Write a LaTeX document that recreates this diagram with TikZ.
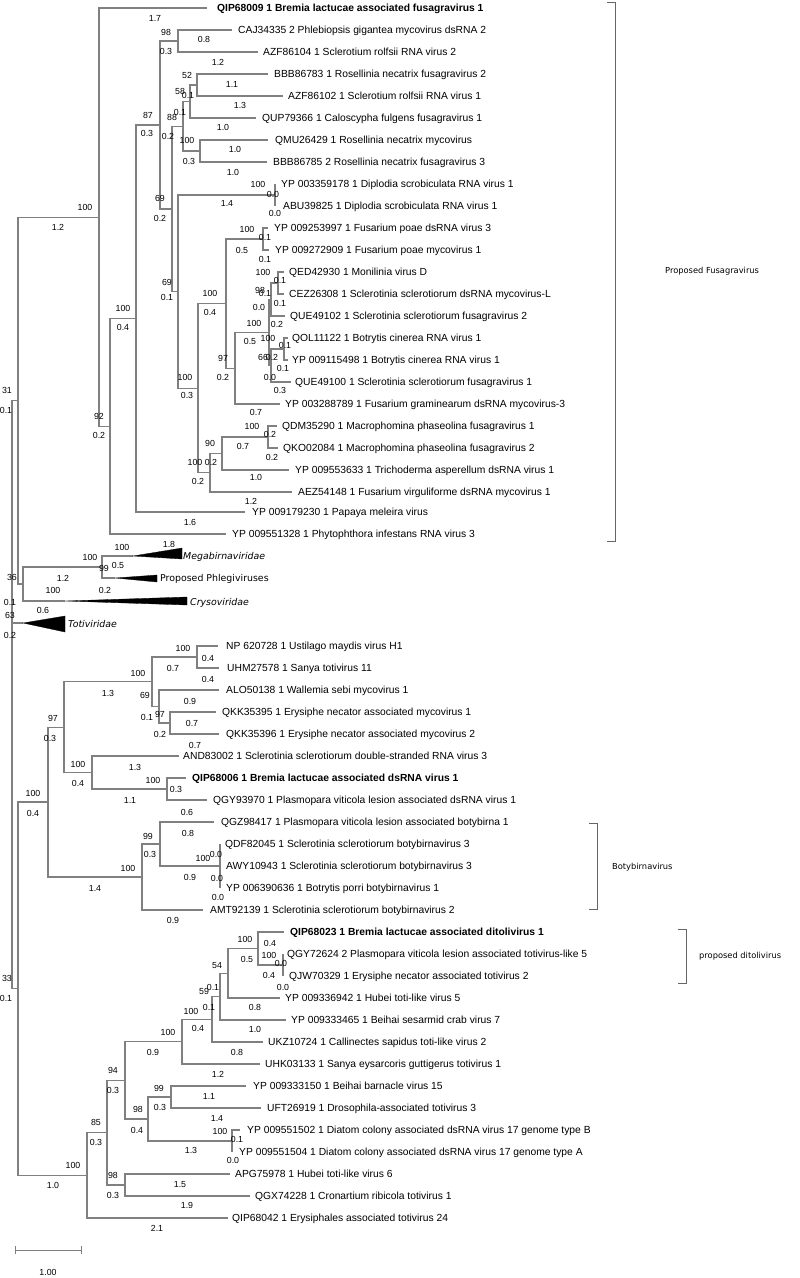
\documentclass[tikz,border=0pt]{standalone}
\usepackage{fontspec}
\setmainfont{Liberation Sans}
\newfontfamily\djv{DejaVu Sans}
\newcommand\lf[5]{\coordinate (#1e) at (#2,#3); \node[leaf] (#1) at (#4,#3) {#5};}
\newcommand\nb[4]{\node[num] (#1) at (#2,#3) {#4};}
\begin{document}
\begin{tikzpicture}[x=1pt,y=-1pt,
  br/.style={draw=black!50, line width=1.2pt},
  leaf/.style={anchor=west, inner sep=0pt, font=\fontsize{10.3}{12}\selectfont, text height=7.4pt, text depth=0pt},
  num/.style={inner sep=0pt, font=\fontsize{8.8}{10}\selectfont, text height=6.3pt, text depth=0pt},
  clade/.style={anchor=west, inner sep=0pt, font=\djv\fontsize{9.4}{11}\selectfont, text height=6.9pt, text depth=0pt},
  grp/.style={anchor=west, inner sep=0pt, font=\djv\fontsize{8.3}{10}\selectfont, text height=6.1pt, text depth=0pt},
  tri/.style={fill=black, draw=black, line width=0.3pt},
  brk/.style={draw=black!60, line width=0.8pt}
]
\fill[white] (0,0) rectangle (800,1278);
\useasboundingbox (0,0) rectangle (800,1278);

% ---------- leaves ----------
\lf{l1}{207}{8}{217}{\bfseries QIP68009 1 Bremia lactucae associated fusagravirus 1}
\lf{l2}{232}{30}{238}{CAJ34335 2 Phlebiopsis gigantea mycovirus dsRNA 2}
\lf{l3}{258}{52}{263}{AZF86104 1 Sclerotium rolfsii RNA virus 2}
\lf{l4}{268}{74}{274}{BBB86783 1 Rosellinia necatrix fusagravirus 2}
\lf{l5}{283}{96}{288}{AZF86102 1 Sclerotium rolfsii RNA virus 1}
\lf{l6}{256}{118}{262}{QUP79366 1 Caloscypha fulgens fusagravirus 1}
\lf{l7}{268}{140}{275}{QMU26429 1 Rosellinia necatrix mycovirus}
\lf{l8}{267}{162}{273}{BBB86785 2 Rosellinia necatrix fusagravirus 3}
\lf{l9}{275}{184}{281}{YP 003359178 1 Diplodia scrobiculata RNA virus 1}
\lf{l10}{275}{206}{283}{ABU39825 1 Diplodia scrobiculata RNA virus 1}
\lf{l11}{268}{228}{274}{YP 009253997 1 Fusarium poae dsRNA virus 3}
\lf{l12}{269}{250}{275}{YP 009272909 1 Fusarium poae mycovirus 1}
\lf{l13}{284}{272}{289}{QED42930 1 Monilinia virus D}
\lf{l14}{284}{294}{289}{CEZ26308 1 Sclerotinia sclerotiorum dsRNA mycovirus-L}
\lf{l15}{285}{316}{290}{QUE49102 1 Sclerotinia sclerotiorum fusagravirus 2}
\lf{l16}{288}{338}{292}{QOL11122 1 Botrytis cinerea RNA virus 1}
\lf{l17}{288}{360}{292}{YP 009115498 1 Botrytis cinerea RNA virus 1}
\lf{l18}{291}{382}{295}{QUE49100 1 Sclerotinia sclerotiorum fusagravirus 1}
\lf{l19}{280}{404}{285}{YP 003288789 1 Fusarium graminearum dsRNA mycovirus-3}
\lf{l20}{277}{426}{282}{QDM35290 1 Macrophomina phaseolina fusagravirus 1}
\lf{l21}{278}{448}{283}{QKO02084 1 Macrophomina phaseolina fusagravirus 2}
\lf{l22}{289}{470}{295}{YP 009553633 1 Trichoderma asperellum dsRNA virus 1}
\lf{l23}{292}{492}{298}{AEZ54148 1 Fusarium virguliforme dsRNA mycovirus 1}
\lf{l24}{245}{512}{252}{YP 009179230 1 Papaya meleira virus}
\lf{l25}{226}{534}{232}{YP 009551328 1 Phytophthora infestans RNA virus 3}
\lf{l30}{218}{646}{226}{NP 620728 1 Ustilago maydis virus H1}
\lf{l31}{219}{668}{227}{UHM27578 1 Sanya totivirus 11}
\lf{l32}{219}{690}{226}{ALO50138 1 Wallemia sebi mycovirus 1}
\lf{l33}{216}{712}{222}{QKK35395 1 Erysiphe necator associated mycovirus 1}
\lf{l34}{219}{734}{226}{QKK35396 1 Erysiphe necator associated mycovirus 2}
\lf{l35}{179}{756}{183}{AND83002 1 Sclerotinia sclerotiorum double-stranded RNA virus 3}
\lf{l36}{186}{778}{192}{\bfseries QIP68006 1 Bremia lactucae associated dsRNA virus 1}
\lf{l37}{207}{800}{213}{QGY93970 1 Plasmopara viticola lesion associated dsRNA virus 1}
\lf{l38}{214}{822}{221}{QGZ98417 1 Plasmopara viticola lesion associated botybirna 1}
\lf{l39}{220}{844}{225}{QDF82045 1 Sclerotinia sclerotiorum botybirnavirus 3}
\lf{l40}{220}{866}{226}{AWY10943 1 Sclerotinia sclerotiorum botybirnavirus 3}
\lf{l41}{220}{888}{226}{YP 006390636 1 Botrytis porri botybirnavirus 1}
\lf{l42}{203}{910}{210}{AMT92139 1 Sclerotinia sclerotiorum botybirnavirus 2}
\lf{l43}{284}{932}{290}{\bfseries QIP68023 1 Bremia lactucae associated ditolivirus 1}
\lf{l44}{283}{954}{287}{QGY72624 2 Plasmopara viticola lesion associated totivirus-like 5}
\lf{l45}{283}{976}{289}{QJW70329 1 Erysiphe necator associated totivirus 2}
\lf{l46}{280}{998}{285}{YP 009336942 1 Hubei toti-like virus 5}
\lf{l47}{286}{1020}{291}{YP 009333465 1 Beihai sesarmid crab virus 7}
\lf{l48}{263}{1042}{268}{UKZ10724 1 Callinectes sapidus toti-like virus 2}
\lf{l49}{260}{1064}{265}{UHK03133 1 Sanya eysarcoris guttigerus totivirus 1}
\lf{l50}{246}{1086}{253}{YP 009333150 1 Beihai barnacle virus 15}
\lf{l51}{261}{1108}{267}{UFT26919 1 Drosophila-associated totivirus 3}
\lf{l52}{240}{1130}{247}{YP 009551502 1 Diatom colony associated dsRNA virus 17 genome type B}
\lf{l53}{232}{1152}{239}{YP 009551504 1 Diatom colony associated dsRNA virus 17 genome type A}
\lf{l54}{230}{1174}{235}{APG75978 1 Hubei toti-like virus 6}
\lf{l55}{250}{1196}{255}{QGX74228 1 Cronartium ribicola totivirus 1}
\lf{l56}{228}{1218}{232}{QIP68042 1 Erysiphales associated totivirus 24}

% ---------- internal nodes ----------
\coordinate (root) at (12,694);
\coordinate (n31) at (18,400.6);
\coordinate (n100a) at (99,217.1);
\coordinate (n92) at (110,426.25);
\coordinate (n100b) at (136,318.5);
\coordinate (n87) at (160,125);
\coordinate (n98) at (178,41);
\coordinate (n69a) at (172,208.9);
\coordinate (n88) at (183,126.25);
\coordinate (n58) at (190,101.5);
\coordinate (n52) at (197,85);
\coordinate (n100d) at (200,151);
\coordinate (n69b) at (178,291.6);
\coordinate (nDip) at (275,195);
\coordinate (n100c) at (198,388.2);
\coordinate (n100e) at (226,303.6);
\coordinate (nFP) at (263,239);
\coordinate (n97) at (235,368.25);
\coordinate (n100h) at (269,332.5);
\coordinate (n98b) at (271,299.5);
\coordinate (n100i) at (278,283);
\coordinate (n66) at (271,365.5);
\coordinate (n100j) at (284,349);
\coordinate (n100f) at (210,472.75);
\coordinate (n90) at (222,453.5);
\coordinate (n100g) at (268,437);
\coordinate (nC) at (23,584);
\coordinate (n99) at (102,567);
\coordinate (mega) at (133,556);
\coordinate (phl) at (115,578);
\coordinate (crys) at (65,601);
\coordinate (toti) at (23,623);
\coordinate (n33) at (18,988.7);
\coordinate (n100m) at (48,802);
\coordinate (n97m) at (64,727.1);
\coordinate (n100o) at (152,681.75);
\coordinate (n100q) at (197,657);
\coordinate (n69m) at (159,706.5);
\coordinate (n97n) at (170,723);
\coordinate (n100p) at (92,772.5);
\coordinate (n100r) at (167,789);
\coordinate (n100n) at (142,877);
\coordinate (n99b) at (160,844);
\coordinate (n100s) at (220,866);
\coordinate (n100w) at (87,1175.3);
\coordinate (n85) at (107,1132.7);
\coordinate (n98d) at (125,1185);
\coordinate (n94) at (125,1080.3);
\coordinate (n100u) at (182,1041.7);
\coordinate (n100t) at (212,1019.3);
\coordinate (n59) at (220,996.6);
\coordinate (n54) at (228,973.25);
\coordinate (nB) at (258,948.5);
\coordinate (nA) at (283,965);
\coordinate (n98c) at (148,1119);
\coordinate (n99c) at (171,1097);
\coordinate (n100v) at (232,1141);

% ---------- branches ----------
\foreach \p/\c in {root/n31, root/toti, root/n33,
  n31/n100a, n31/nC,
  n100a/l1e, n100a/n92, n92/n100b, n92/l25e, n100b/n87, n100b/l24e,
  n87/n98, n87/n69a, n98/l2e, n98/l3e, n69a/n88, n69a/n69b,
  n88/n58, n88/n100d, n58/n52, n58/l6e, n52/l4e, n52/l5e, n100d/l7e, n100d/l8e,
  n69b/nDip, n69b/n100c, nDip/l9e, nDip/l10e, n100c/n100e, n100c/n100f,
  n100e/nFP, n100e/n97, nFP/l11e, nFP/l12e, n97/n100h, n97/l19e,
  n100h/n98b, n100h/n66, n98b/n100i, n98b/l15e, n100i/l13e, n100i/l14e,
  n66/n100j, n66/l18e, n100j/l16e, n100j/l17e,
  n100f/n90, n100f/l23e, n90/n100g, n90/l22e, n100g/l20e, n100g/l21e,
  nC/n99, nC/crys, n99/mega, n99/phl,
  n33/n100m, n33/n100w, n100m/n97m, n100m/n100n, n97m/n100o, n97m/n100p,
  n100o/n100q, n100o/n69m, n100q/l30e, n100q/l31e, n69m/l32e, n69m/n97n,
  n97n/l33e, n97n/l34e, n100p/l35e, n100p/n100r, n100r/l36e, n100r/l37e,
  n100n/n99b, n100n/l42e, n99b/l38e, n99b/n100s, n100s/l39e, n100s/l40e, n100s/l41e,
  n100w/n85, n100w/l56e, n85/n94, n85/n98d, n98d/l54e, n98d/l55e,
  n94/n100u, n94/n98c, n100u/n100t, n100u/l49e, n100t/n59, n100t/l48e,
  n59/n54, n59/l47e, n54/nB, n54/l46e, nB/l43e, nB/nA, nA/l44e, nA/l45e,
  n98c/n99c, n98c/n100v, n99c/l50e, n99c/l51e, n100v/l52e, n100v/l53e}
  {\draw[br] (\p) |- (\c);}

% ---------- collapsed clades ----------
\fill[tri] (mega) -- (182,548) -- (182,559) -- cycle;
\fill[tri] (phl) -- (157,575) -- (157,582) -- cycle;
\fill[tri] (crys) -- (187,597) -- (187,605) -- cycle;
\fill[tri] (toti) -- (65,616) -- (65,632) -- cycle;
\node[clade, font=\djv\itshape\fontsize{9.4}{11}\selectfont] (tMega) at (183,556) {Megabirnaviridae};
\node[clade] (tPhl) at (160,578) {Proposed Phlegiviruses};
\node[clade, font=\djv\itshape\fontsize{9.4}{11}\selectfont] (tCrys) at (190,602) {Crysoviridae};
\node[clade, font=\djv\itshape\fontsize{9.4}{11}\selectfont] (tToti) at (68,624) {Totiviridae};

% ---------- brackets ----------
\coordinate (fa) at (607,2); \coordinate (fb) at (615,2);
\coordinate (fc) at (615,541); \coordinate (fd) at (607,541);
\draw[brk] (fa) -- (fb) -- (fc) -- (fd);
\node[grp] (tFus) at (665,270) {Proposed Fusagravirus};
\coordinate (ba) at (589,823); \coordinate (bb) at (597,823);
\coordinate (bc) at (597,909); \coordinate (bd) at (589,909);
\draw[brk] (ba) -- (bb) -- (bc) -- (bd);
\node[grp] (tBoty) at (612,866) {Botybirnavirus};
\coordinate (da) at (678,929); \coordinate (db) at (686,929);
\coordinate (dc) at (686,983); \coordinate (dd) at (678,983);
\draw[brk] (da) -- (db) -- (dc) -- (dd);
\node[grp] (tDito) at (699,955) {proposed ditolivirus};

% ---------- scale bar ----------
\coordinate (s1) at (15,1250); \coordinate (s2) at (81,1250);
\draw[br, line width=1pt] (s1) -- (s2);
\draw[br, line width=1pt] ([yshift=-4pt]s1) -- ([yshift=4pt]s1);
\draw[br, line width=1pt] ([yshift=-4pt]s2) -- ([yshift=4pt]s2);
\nb{sbl}{48}{1272}{1.00}

% ---------- support / length labels ----------
\nb{a1}{85}{207}{100} \nb{a2}{58}{227}{1.2} \nb{a3}{155}{18}{1.7}
\nb{a4}{99}{416}{92} \nb{a5}{99}{435}{0.2}
\nb{a6}{123}{308}{100} \nb{a7}{123}{327}{0.4}
\nb{a8}{169}{544}{1.8} \nb{a9}{190}{522}{1.6}
\nb{a10}{148}{115}{87} \nb{a11}{147}{133}{0.3}
\nb{a12}{166}{32}{98} \nb{a13}{166}{51}{0.3} \nb{a14}{204}{39}{0.8} \nb{a15}{218}{62}{1.2}
\nb{a16}{160}{198}{69} \nb{a17}{160}{218}{0.2}
\nb{a18}{172}{117}{88} \nb{a19}{168}{136}{0.2}
\nb{a20}{180}{91}{58} \nb{a21}{180}{112}{0.1}
\nb{a22}{187}{75}{52} \nb{a23}{188}{95}{0.1}
\nb{a24}{232}{84}{1.1} \nb{a25}{240}{105}{1.3} \nb{a26}{223}{127}{1.0}
\nb{a27}{187}{140}{100} \nb{a28}{189}{161}{0.3} \nb{a29}{235}{149}{1.0} \nb{a30}{233}{172}{1.0}
\nb{a31}{167}{282}{69} \nb{a32}{167}{297}{0.1}
\nb{a33}{258}{184}{100} \nb{a34}{227}{203}{1.4} \nb{a35}{273}{194}{0.0} \nb{a36}{275}{213}{0.0}
\nb{a37}{185}{377}{100} \nb{a38}{187}{395}{0.3}
\nb{a39}{210}{293}{100} \nb{a40}{210}{312}{0.4}
\nb{a41}{247}{229}{100} \nb{a42}{242}{250}{0.5} \nb{a43}{265}{237}{0.1} \nb{a44}{265}{259}{0.1}
\nb{a45}{223}{358}{97} \nb{a46}{223}{377}{0.2}
\nb{a47}{254}{323}{100} \nb{a48}{250}{341}{0.5}
\nb{a49}{260}{290}{98} \nb{a50}{259}{307}{0.0}
\nb{a51}{263}{272}{100} \nb{a52}{265}{293}{0.1}
\nb{a53}{280}{280}{0.1} \nb{a54}{280}{303}{0.1} \nb{a55}{277}{324}{0.2}
\nb{a56}{263}{357}{66} \nb{a57}{270}{377}{0.0}
\nb{a58}{268}{338}{100} \nb{a59}{272}{357}{0.2}
\nb{a60}{285}{345}{0.1} \nb{a61}{283}{368}{0.1} \nb{a62}{280}{390}{0.3}
\nb{a63}{256}{412}{0.7}
\nb{a64}{195}{462}{100} \nb{a65}{198}{481}{0.2}
\nb{a66}{210}{443}{90} \nb{a67}{211}{462}{0.2}
\nb{a68}{252}{426}{100} \nb{a69}{243}{446}{0.7} \nb{a70}{270}{434}{0.2} \nb{a71}{272}{457}{0.2}
\nb{a72}{256}{477}{1.0} \nb{a73}{251}{501}{1.2}
\nb{b1}{90}{557}{100} \nb{b2}{63}{578}{1.2} \nb{b3}{122}{547}{100} \nb{b4}{118}{565}{0.5}
\nb{b5}{104}{568}{99} \nb{b6}{105}{590}{0.2} \nb{b7}{53}{590}{100}
\nb{b8}{12}{577}{36} \nb{b9}{10}{602}{0.1} \nb{b10}{43}{610}{0.6}
\nb{b11}{10}{615}{63} \nb{b12}{10}{635}{0.2} \nb{b13}{7}{390}{31} \nb{b14}{6}{410}{0.1}
\nb{c1}{33}{793}{100} \nb{c2}{33}{813}{0.4}
\nb{c3}{53}{718}{97} \nb{c4}{50}{738}{0.3}
\nb{c5}{138}{673}{100} \nb{c6}{108}{693}{1.3}
\nb{c7}{183}{648}{100} \nb{c8}{173}{668}{0.7} \nb{c9}{208}{658}{0.4} \nb{c10}{208}{679}{0.4}
\nb{c11}{145}{695}{69} \nb{c12}{147}{717}{0.1} \nb{c13}{160}{714}{97} \nb{c14}{160}{734}{0.2}
\nb{c15}{190}{701}{0.9} \nb{c16}{192}{723}{0.7} \nb{c17}{195}{745}{0.7}
\nb{c18}{78}{764}{100} \nb{c19}{78}{783}{0.4} \nb{c20}{135}{767}{1.3}
\nb{c21}{153}{780}{100} \nb{c22}{130}{800}{1.1} \nb{c23}{176}{789}{0.3} \nb{c24}{187}{812}{0.6}
\nb{c25}{128}{868}{100} \nb{c26}{95}{888}{1.4}
\nb{c27}{148}{836}{99} \nb{c28}{150}{854}{0.3} \nb{c29}{188}{833}{0.8}
\nb{c30}{203}{858}{100} \nb{c31}{190}{877}{0.9} \nb{c32}{216}{854}{0.0} \nb{c33}{217}{878}{0.0} \nb{c34}{218}{897}{0.0}
\nb{c35}{173}{920}{0.9}
\nb{d1}{7}{978}{33} \nb{d2}{6}{998}{0.1}
\nb{d3}{73}{1165}{100} \nb{d4}{53}{1185}{1.0}
\nb{d5}{96}{1122}{85} \nb{d6}{96}{1142}{0.3}
\nb{d7}{113}{1175}{98} \nb{d8}{113}{1195}{0.3} \nb{d9}{180}{1184}{1.5} \nb{d10}{187}{1205}{1.9} \nb{d11}{157}{1228}{2.1}
\nb{d12}{113}{1070}{94} \nb{d13}{113}{1090}{0.3}
\nb{d14}{168}{1032}{100} \nb{d15}{153}{1052}{0.9} \nb{d16}{218}{1074}{1.2}
\nb{d17}{191}{1011}{100} \nb{d18}{198}{1028}{0.4} \nb{d19}{237}{1052}{0.8}
\nb{d20}{204}{991}{59} \nb{d21}{209}{1007}{0.1}
\nb{d22}{217}{965}{54} \nb{d23}{213}{987}{0.1}
\nb{d24}{255}{1007}{0.8} \nb{d25}{255}{1029}{1.0}
\nb{d26}{245}{939}{100} \nb{d27}{247}{959}{0.5} \nb{d28}{270}{943}{0.4}
\nb{d29}{269}{955}{100} \nb{d30}{269}{975}{0.4} \nb{d31}{281}{963}{0.0} \nb{d32}{283}{987}{0.0}
\nb{d33}{138}{1109}{98} \nb{d34}{137}{1130}{0.4}
\nb{d35}{159}{1088}{99} \nb{d36}{160}{1107}{0.3} \nb{d37}{209}{1096}{1.1} \nb{d38}{217}{1118}{1.4}
\nb{d39}{220}{1131}{100} \nb{d40}{191}{1150}{1.3} \nb{d41}{237}{1139}{0.1} \nb{d42}{233}{1160}{0.0}
\end{tikzpicture}
\end{document}
